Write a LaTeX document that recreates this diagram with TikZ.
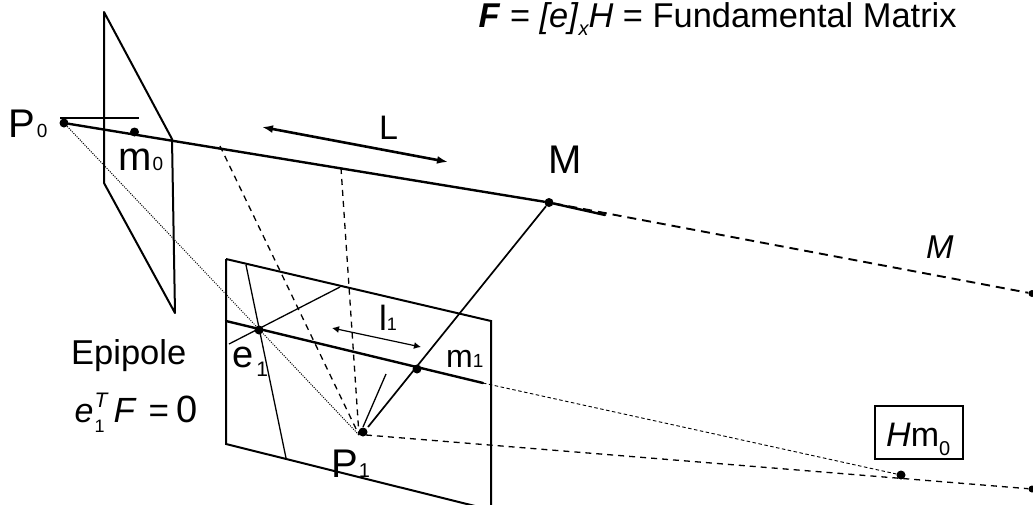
\documentclass[tikz,border=0pt]{standalone}
\usepackage{fontspec}
\setmainfont{Liberation Sans}
\usetikzlibrary{arrows.meta}
\newcommand{\fs}[1]{\fontsize{#1}{#1}\selectfont}
\tikzset{
  thickln/.style={line width=2.4pt,line cap=round},
  midln/.style={line width=2pt},
  thinln/.style={line width=1.3pt},
  dashln/.style={line width=1.3pt,dash pattern=on 6pt off 5pt},
  bigdash/.style={line width=1.9pt,dash pattern=on 9pt off 6pt},
  fine/.style={line width=.9pt,dash pattern=on 3.5pt off 2.5pt},
  dotln/.style={line width=1pt,dash pattern=on 1pt off 1.3pt},
  pt/.style={circle,fill=black,inner sep=0pt,minimum size=9pt},
  txt/.style={inner sep=0pt,anchor=base west,text=black},
}
\begin{document}
\begin{tikzpicture}[x=1pt,y=-1pt]
\useasboundingbox (0,0) rectangle (1033,504);
% key points
\node[pt] (P0) at (64,123) {};
\node[pt] (m0) at (134.5,132) {};
\node[pt] (M) at (549,202.5) {};
\node[pt] (e1) at (259,330) {};
\node[pt] (m1) at (417,369) {};
\node[pt] (P1) at (363,432) {};
\node[pt] (H) at (901,475) {};
\node[pt,minimum size=7pt] (Mend) at (1032,293.5) {};
\node[pt,minimum size=7pt] (Hend) at (1032,489) {};
\coordinate (a) at (104,12);
\coordinate (b) at (172,139);
\coordinate (c) at (175,313);
\coordinate (d) at (104,183);
\coordinate (e) at (226,259);
\coordinate (f) at (491,321);
\coordinate (g) at (491,510);
\coordinate (h) at (226,444);
\coordinate (q1) at (220,146);
\coordinate (q2) at (341,168);
\coordinate (conv) at (359,435);
\coordinate (pr) at (366,435);
\coordinate (el) at (226,321);
\coordinate (er) at (483,383);
\coordinate (t1) at (246,265);
\coordinate (t2) at (286,458);
\coordinate (t3) at (229,344);
\coordinate (t4) at (340,287);
\coordinate (t5) at (386,374);
\coordinate (t6) at (363,427);
\coordinate (t7) at (368,427);
\coordinate (h1) at (60,118);
\coordinate (h2) at (139,118);
\coordinate (tk) at (605,215);
\coordinate (la) at (262,127);
\coordinate (lb) at (448,162);
\coordinate (sa) at (332,328);
\coordinate (sb) at (421,347);
% planes
\draw[midln,line join=round] (a) -- (d) -- (c) -- (b) -- cycle;
\draw[midln] (e) -- (f) -- (g) (e) -- (h) -- (g);
% rays
\draw[thickln] (P0) -- (M);
\draw[thinln] (h1) -- (h2);
\draw[dotln] (P0) -- (conv);
\draw[dashln] (q1) -- (conv);
\draw[dashln] (q2) -- (conv);
\draw[thickln] (el) -- (er);
\draw[thinln] (t1) -- (t2);
\draw[thinln] (t3) -- (t4);
\draw[thinln] (t6) -- (t5);
\draw[line width=1.7pt] (t7) -- (M);
\draw[thickln] (M) -- (tk);
\draw[bigdash] (M) -- (Mend);
\draw[fine] (er) -- (H);
\draw[dashln] (pr) -- (Hend);
% arrows
\draw[{Latex[length=11pt,width=8pt]}-{Latex[length=11pt,width=8pt]},line width=2.6pt] (la) -- (lb);
\draw[{Latex[length=7pt,width=7pt]}-{Latex[length=7pt,width=7pt]},line width=1.2pt] (sa) -- (sb);
% labels
\node[txt] (lP0) at (8,137) {\fs{40}P\kern2pt\fs{19}0};
\node[txt] (lm0) at (118,170) {\fs{40}m\kern1pt\fs{19}0};
\node[txt] (lL) at (379,139) {\fs{34}L};
\node[txt] (lM) at (548,173) {\fs{40}M};
\node[txt] (lMi) at (926,258) {\fs{33}\itshape M};
\node[txt] (ll1) at (379,330) {\fs{35}l\fs{18}1};
\node[txt] (lm1) at (446,367) {\fs{32}m\fs{19}1};
\node[txt] (le1) at (232,367) {\fs{38}e\kern3pt\raisebox{-9pt}{\fs{21}1}};
\node[txt] (lP1) at (331,477) {\fs{40}P\kern1pt\fs{20}1};
\node[txt] (lE) at (71,364) {\fs{34.5}Epipole};
\node[txt] (lF) at (74.5,422) {\fs{34}\textit{e}\rlap{\kern1pt\raisebox{15pt}{\fs{21}\itshape T}}\kern1pt\raisebox{-10pt}{\fs{18}1}\kern9pt{\fs{35}\textit{F}}\kern12pt{\fs{35}=}\kern7pt{\fs{38}0}};
\node[draw,line width=1.2pt,inner sep=0pt,minimum width=88pt,minimum height=53pt] (lHb) at (919,432.5) {};
\node[txt] (lH) at (886,446) {\fs{34}\textit{H}m\raisebox{-9pt}{\fs{20}0}};
\node[txt] (lT) at (478.5,27) {\fs{34.4}\textbf{\textit{F}} = \textit{[e]}\raisebox{-8pt}{\fs{20}\itshape x}\textit{H} = Fundamental Matrix};
\end{tikzpicture}
\end{document}
